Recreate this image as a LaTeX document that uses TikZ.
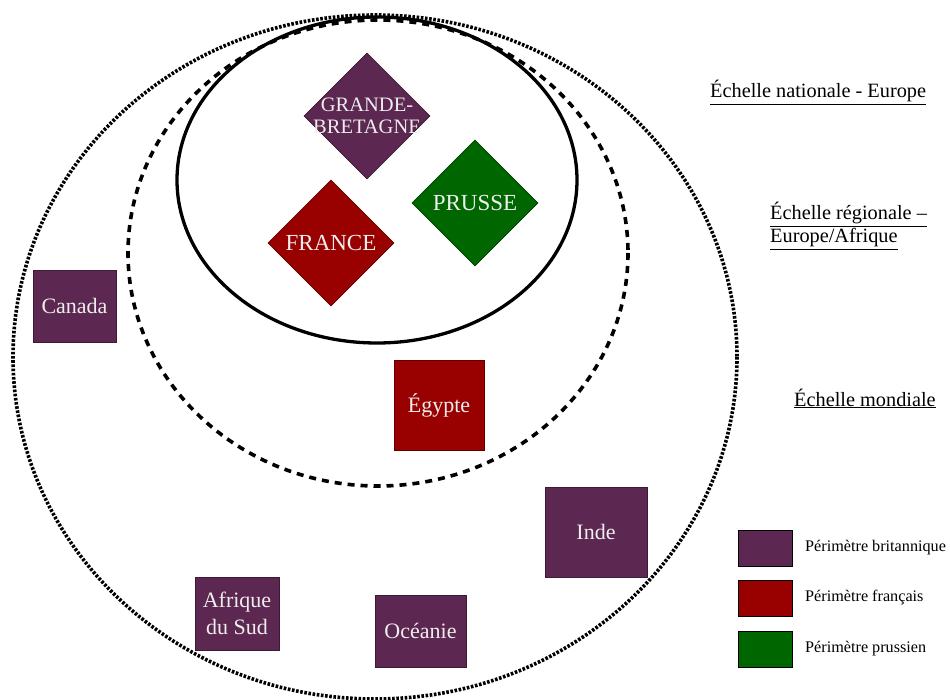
\documentclass[tikz,border=0pt]{standalone}
\usepackage{fontspec}
\setmainfont{Liberation Serif}
\usetikzlibrary{shapes.geometric}
\definecolor{brit}{RGB}{92,39,80}
\definecolor{brittr}{RGB}{60,25,52}
\definecolor{fra}{RGB}{153,0,0}
\definecolor{fratr}{RGB}{100,0,0}
\definecolor{pru}{RGB}{0,102,0}
\definecolor{prutr}{RGB}{0,60,0}
\definecolor{txt}{RGB}{238,238,238}
\tikzset{
  country/.style={diamond, draw=#1tr, fill=#1, line width=0.8pt, minimum width=126pt, minimum height=126pt, inner sep=0pt, text=txt, align=center, font=\fontsize{23}{25}\selectfont},
  colony/.style={rectangle, draw=brittr, fill=brit, line width=0.8pt, inner sep=0pt, text=txt, align=center, font=\fontsize{22}{27}\selectfont},
  legbox/.style={rectangle, draw=black, fill=#1, line width=0.8pt, minimum width=54pt, minimum height=36pt, inner sep=0pt},
  legtext/.style={anchor=west, inner sep=0pt, font=\fontsize{16.2}{18}\selectfont},
  scalelabel/.style={inner sep=0pt, font=\fontsize{20.3}{23}\selectfont, align=left},
  world/.style={line width=3.6pt, dash pattern=on 2.6pt off 1.6pt},
  region/.style={line width=3.6pt, dash pattern=on 7pt off 6pt},
  nation/.style={line width=3.3pt}
}
\begin{document}
\begin{tikzpicture}[x=1pt,y=-1pt]
\useasboundingbox (0,0) rectangle (950,700);
% scale ellipses
\draw[world] (375,357) ellipse [x radius=362, y radius=342];
\draw[region] (378,253) ellipse [x radius=250, y radius=233];
\draw[nation] (377,180) ellipse [x radius=200, y radius=163];
% countries
\node[country=brit, font=\fontsize{20.5}{22}\selectfont] (gb) at (367,116) {\makebox[0pt]{GRANDE-}\\\makebox[0pt]{BRETAGNE}};
\node[country=fra] (fr) at (331,243) {FRANCE};
\node[country=pru] (pr) at (475,203) {PRUSSE};
% colonies
\node[colony, minimum width=83pt, minimum height=72pt] (ca) at (74.5,306) {Canada};
\node[colony, minimum width=90pt, minimum height=90pt, fill=fra, draw=fratr] (eg) at (439,405) {Égypte};
\node[colony, minimum width=102pt, minimum height=90pt] (in) at (596,532) {Inde};
\node[colony, minimum width=84pt, minimum height=73pt] (as) at (237,613.5) {Afrique\\du Sud};
\node[colony, minimum width=91pt, minimum height=72pt] (oc) at (420.5,631) {Océanie};
% scale labels
\node[scalelabel, anchor=base west] (l1) at (710,98) {\underline{Échelle nationale - Europe}};
\node[scalelabel, anchor=base west] (l2a) at (770,220) {\underline{Échelle régionale –}};
\node[scalelabel, anchor=base west] (l2b) at (770,243) {\underline{Europe/Afrique}};
\node[scalelabel, anchor=base west] (l3) at (794,406) {\underline{Échelle mondiale}};
% legend
\node[legbox=brit] (k1) at (765,548) {};
\node[legbox=fra] (k2) at (765,598) {};
\node[legbox=pru] (k3) at (765,649) {};
\node[legtext] (t1) at (805,548) {Périmètre britannique};
\node[legtext] (t2) at (805,598) {Périmètre français};
\node[legtext] (t3) at (805,649) {Périmètre prussien};
\end{tikzpicture}
\end{document}
